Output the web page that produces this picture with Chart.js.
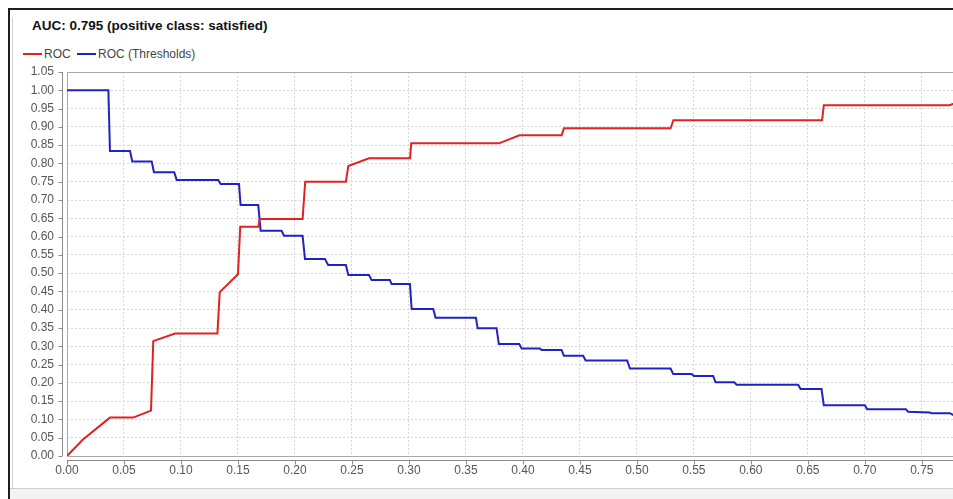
<!DOCTYPE html>
<html>
<head>
<meta charset="utf-8">
<script src="https://cdn.jsdelivr.net/npm/chart.js@4.4.1/dist/chart.umd.min.js"></script>
<style>
  html, body { margin: 0; padding: 0; background: #fff; overflow: hidden; width: 953px; height: 499px; }
  body { position: relative; font-family: "Liberation Sans", Arial, sans-serif; }
  .frame-top { position: absolute; left: 8px; top: 8px; width: 960px; height: 2px; background: #1e1e1e; }
  .frame-left { position: absolute; left: 8px; top: 8px; width: 2px; height: 500px; background: #1e1e1e; }
  .frame-inner { position: absolute; left: 12px; top: 17px; width: 1px; height: 471px; background: #d0d0d0; }
  .frame-bottom { position: absolute; left: 10px; top: 488px; width: 960px; height: 11px; background: #f3f3f3; border-top: 1px solid #cfcfcf; }
  #title { position: absolute; left: 32px; top: 17px; font-size: 13.5px; font-weight: bold; color: #111; line-height: 17px; white-space: nowrap; }
  #legend { position: absolute; left: 23px; top: 47px; font-size: 12px; color: #444; line-height: 15px; white-space: nowrap; }
  #legend span.key { display: inline-block; width: 19px; height: 2px; vertical-align: middle; margin-right: 2px; position: relative; top: -1px; }
  #legend span.txt { margin-right: 3px; }
  #wrap { position: absolute; left: 14px; top: 12px; width: 946px; height: 476px; }
</style>
</head>
<body>
<div class="frame-top"></div>
<div class="frame-left"></div>
<div class="frame-inner"></div>
<div class="frame-bottom"></div>
<div id="title">AUC: 0.795 (positive class: satisfied)</div>
<div id="legend">
  <span class="key" style="background:#e02222"></span><span class="txt">ROC</span>
  <span class="key" style="background:#2222c4"></span><span class="txt">ROC (Thresholds)</span>
</div>
<div id="wrap"><canvas id="roc" width="946" height="476"></canvas></div>
<script>
// ROC curve (false positive rate -> true positive rate)
const rocFpr = [0, 0.014, 0.0377, 0.058, 0.0737, 0.0757, 0.0947, 0.132, 0.134, 0.150, 0.152, 0.168, 0.169,
  0.2067, 0.209, 0.2447, 0.2468, 0.265, 0.301, 0.302, 0.379, 0.397, 0.434, 0.436, 0.5296, 0.532,
  0.6625, 0.664, 0.7746, 0.78];
const rocTpr = [0, 0.045, 0.105, 0.105, 0.124, 0.314, 0.335, 0.335, 0.448, 0.497, 0.627, 0.627, 0.648,
  0.648, 0.750, 0.750, 0.793, 0.814, 0.814, 0.855, 0.855, 0.877, 0.877, 0.896, 0.896, 0.918,
  0.918, 0.959, 0.959, 0.966];

// threshold curve
const thrFpr = [0, 0.0363, 0.0377, 0.0553, 0.0573, 0.0743, 0.0763, 0.0941, 0.0962, 0.1327, 0.1348, 0.1509,
  0.1523, 0.1678, 0.1699, 0.1883, 0.1904, 0.2067, 0.2088, 0.2263, 0.2292, 0.2447, 0.2468, 0.265,
  0.2673, 0.2833, 0.2848, 0.3009, 0.3024, 0.3213, 0.3234, 0.3588, 0.3603, 0.3769, 0.3789, 0.3968,
  0.3989, 0.4149, 0.4164, 0.4339, 0.436, 0.4529, 0.455, 0.4915, 0.4939, 0.5296, 0.5319, 0.5479,
  0.55, 0.5669, 0.569, 0.5854, 0.5874, 0.6415, 0.6436, 0.662, 0.664, 0.700, 0.702, 0.736,
  0.738, 0.757, 0.7585, 0.7746, 0.78];
const thrVal = [1.0, 1.0, 0.834, 0.834, 0.805, 0.805, 0.776, 0.776, 0.755, 0.755, 0.744, 0.744,
  0.686, 0.686, 0.616, 0.616, 0.602, 0.602, 0.539, 0.539, 0.522, 0.522, 0.495, 0.495,
  0.481, 0.481, 0.470, 0.470, 0.402, 0.402, 0.378, 0.378, 0.349, 0.349, 0.306, 0.306,
  0.294, 0.294, 0.290, 0.290, 0.274, 0.274, 0.261, 0.261, 0.239, 0.239, 0.224, 0.224,
  0.219, 0.219, 0.202, 0.202, 0.195, 0.195, 0.183, 0.183, 0.139, 0.139, 0.128, 0.128,
  0.121, 0.119, 0.117, 0.117, 0.108];

const xMax = 0.78;
const yMax = 1.05;
const tickStep = 0.05;

const toPoints = (xs, ys) => xs.map((v, i) => ({ x: v, y: ys[i] }));

// plot frame + axis lines sitting a few px off the plot (like the original)
const axisFrame = {
  id: 'axisFrame',
  beforeDatasetsDraw(chart) {
    const { ctx, chartArea: a, scales: { x, y } } = chart;
    ctx.save();
    ctx.lineWidth = 1;
    ctx.strokeStyle = '#a9a9a9';
    ctx.strokeRect(a.left + 0.5, a.top + 0.5, a.right - a.left, a.bottom - a.top);

    ctx.strokeStyle = '#8a8a8a';
    ctx.beginPath();
    const ax = a.left - 4.5;
    ctx.moveTo(ax, a.top);
    ctx.lineTo(ax, a.bottom);
    y.ticks.forEach(t => {
      const py = Math.round(y.getPixelForValue(t.value)) + 0.5;
      ctx.moveTo(ax - 4, py);
      ctx.lineTo(ax, py);
    });
    const ay = a.bottom + 4.5;
    ctx.moveTo(a.left, ay);
    ctx.lineTo(a.right, ay);
    x.ticks.forEach(t => {
      const px = Math.round(x.getPixelForValue(t.value)) + 0.5;
      ctx.moveTo(px, ay);
      ctx.lineTo(px, ay + 4);
    });
    ctx.stroke();
    ctx.restore();
  }
};

const tickFont = { family: '"Liberation Sans", Arial, sans-serif', size: 12 };
const gridOpts = { color: '#d6d6d6', drawTicks: false };

new Chart(document.getElementById('roc').getContext('2d'), {
  type: 'scatter',
  data: {
    datasets: [
      {
        label: 'ROC',
        data: toPoints(rocFpr, rocTpr),
        showLine: true,
        borderColor: '#e02222',
        borderWidth: 2,
        pointRadius: 0,
        tension: 0
      },
      {
        label: 'ROC (Thresholds)',
        data: toPoints(thrFpr, thrVal),
        showLine: true,
        borderColor: '#2222c4',
        borderWidth: 2,
        pointRadius: 0,
        tension: 0
      }
    ]
  },
  options: {
    responsive: false,
    animation: false,
    layout: { padding: { top: 60, right: 4, bottom: 4, left: 0 } },
    plugins: {
      legend: { display: false },
      title: { display: false },
      tooltip: { enabled: false }
    },
    scales: {
      x: {
        type: 'linear',
        min: 0,
        max: xMax,
        grid: gridOpts,
        border: { display: false, dash: [2, 2] },
        ticks: {
          stepSize: tickStep,
          includeBounds: false,
          padding: 7,
          color: '#555',
          font: tickFont,
          maxRotation: 0,
          callback: v => v.toFixed(2)
        },
        afterFit: s => { s.height = 28; }
      },
      y: {
        type: 'linear',
        min: 0,
        max: yMax,
        grid: gridOpts,
        border: { display: false, dash: [2, 2] },
        ticks: {
          stepSize: tickStep,
          padding: 13,
          color: '#555',
          font: tickFont,
          callback: v => v.toFixed(2)
        },
        afterFit: s => { s.width = 53; }
      }
    }
  },
  plugins: [axisFrame]
});
</script>
</body>
</html>
